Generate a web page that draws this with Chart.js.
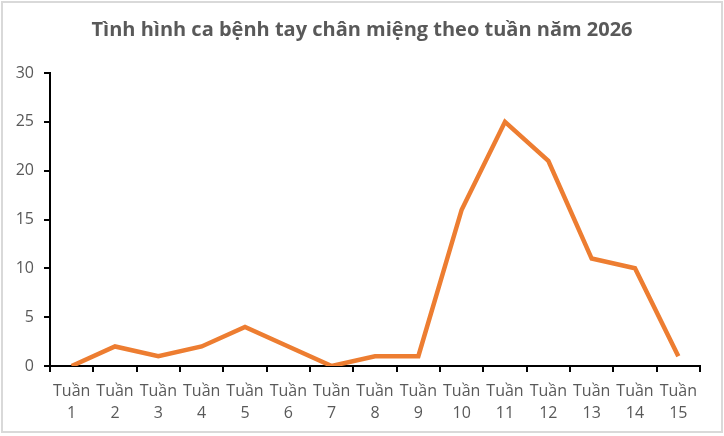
<!DOCTYPE html>
<html>
<head>
<meta charset="utf-8">
<script src="https://cdn.jsdelivr.net/npm/chart.js@4"></script>
<style>
  html, body { margin: 0; padding: 0; background: #fff; }
  #khung { position: absolute; left: 1px; top: 1px; width: 718px; height: 428px; border: 2px solid #d9d9d9; }
  #wrap { position: absolute; left: 0; top: 0; width: 724px; height: 436px; }
</style>
</head>
<body>
<div id="khung"></div>
<div id="wrap"><canvas id="bieuDo" width="724" height="436"></canvas></div>
<script>
// du lieu doc tu hinh
const tuan = ['1','2','3','4','5','6','7','8','9','10','11','12','13','14','15'];
const soCa = [0, 2, 1, 2, 4, 2, 0, 1, 1, 16, 25, 21, 11, 10, 1];
const mocTrucY = [0, 5, 10, 15, 20, 25, 30];

const nhan = tuan.map(t => ['Tuần', t]);
const mauChu = '#595959';

const ctx = document.getElementById('bieuDo').getContext('2d');
new Chart(ctx, {
  type: 'line',
  data: {
    labels: nhan,
    datasets: [{
      label: 'Số ca',
      data: soCa,
      borderColor: '#ED7D31',
      borderWidth: 4.5,
      pointRadius: 0,
      tension: 0,
      fill: false
    }]
  },
  options: {
    responsive: false,
    animation: false,
    layout: { padding: 0 },
    plugins: {
      legend: { display: false },
      tooltip: { enabled: false },
      title: {
        display: true,
        text: 'Tình hình ca bệnh tay chân miệng theo tuần năm 2026',
        color: mauChu,
        font: { family: 'Open Sans', size: 20, weight: 'bold' },
        padding: { top: 18, bottom: 31 }
      }
    },
    scales: {
      x: {
        offset: true,
        grid: { offset: true, drawOnChartArea: false, drawTicks: true, tickLength: 6, color: '#000', lineWidth: 2 },
        border: { display: true, color: '#000', width: 2 },
        ticks: { color: mauChu, font: { family: 'Open Sans', size: 16, lineHeight: 1.35 }, maxRotation: 0, autoSkip: false, padding: 9 },
        afterFit: s => { s.height = 70; }
      },
      y: {
        min: 0,
        max: 30,
        afterBuildTicks: s => { s.ticks = mocTrucY.map(v => ({ value: v })); },
        grid: { drawOnChartArea: false, drawTicks: true, tickLength: 6, color: '#000', lineWidth: 2 },
        border: { display: true, color: '#000', width: 2 },
        ticks: { color: mauChu, font: { family: 'Open Sans', size: 16 }, padding: 10 },
        afterFit: s => { s.width = 50; }
      },
      // truc trong ben phai de chua le
      le: {
        position: 'right',
        display: true,
        grid: { display: false },
        border: { display: false },
        ticks: { display: false },
        afterFit: s => { s.width = 24; }
      }
    }
  }
});
</script>
</body>
</html>
